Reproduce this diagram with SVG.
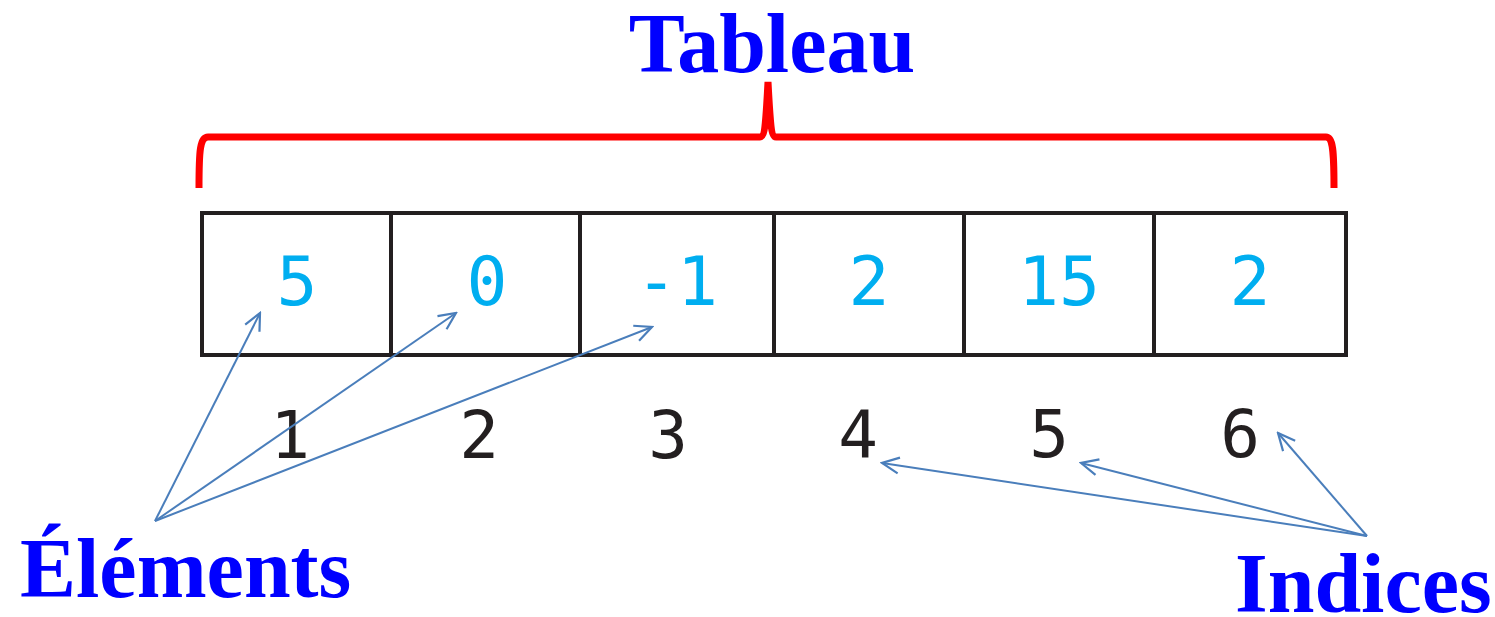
<svg xmlns="http://www.w3.org/2000/svg" width="1495" height="617" viewBox="0 0 1495 617">
<style>
.title{font-family:"Liberation Serif","Times New Roman",serif;font-weight:bold;font-size:84px;fill:#0000ff}
.val{font-family:"DejaVu Sans Mono",monospace;font-size:68px;fill:#00aef0;text-anchor:middle}
.idx{font-family:"DejaVu Sans Mono",monospace;font-size:66px;fill:#231f20;text-anchor:middle}
.cell{fill:#fff;stroke:#231f20;stroke-width:4}
.conn{stroke:#4a7ebb;stroke-width:2;fill:none;marker-end:url(#ah)}
</style>
<defs>
<marker id="ah" markerUnits="userSpaceOnUse" viewBox="-20 -10 22 20" refX="0" refY="0" markerWidth="22" markerHeight="20" orient="auto">
<path d="M-17,-8 L0,0 L-17,8" fill="none" stroke="#4a7ebb" stroke-width="2.2"/>
</marker>
</defs>
<rect width="1495" height="617" fill="#fff"/>
<g id="title"><text class="title" x="772" y="72" text-anchor="middle">Tableau</text></g>
<g id="brace"><path d="M199,188 C199,150 200,137 208,137 L760,137 C765,137 766,120 768,82 C770,120 771,137 776,137 L1326,137 C1333,137 1334,150 1334,188" fill="none" stroke="#ff0000" stroke-width="7"/></g>
<g id="cell1"><rect class="cell" x="202" y="213" width="189" height="142"/><text class="val" x="297" y="305">5</text></g>
<g id="cell2"><rect class="cell" x="391" y="213" width="189" height="142"/><text class="val" x="487" y="305">0</text></g>
<g id="cell3"><rect class="cell" x="580" y="213" width="194" height="142"/><text class="val" x="677" y="305">-1</text></g>
<g id="cell4"><rect class="cell" x="774" y="213" width="190" height="142"/><text class="val" x="869" y="305">2</text></g>
<g id="cell5"><rect class="cell" x="964" y="213" width="190" height="142"/><text class="val" x="1059" y="305">15</text></g>
<g id="cell6"><rect class="cell" x="1154" y="213" width="192" height="142"/><text class="val" x="1250" y="305">2</text></g>
<g id="indices-nums">
<text class="idx" x="290" y="458">1</text>
<text class="idx" x="479" y="458">2</text>
<text class="idx" x="668" y="458">3</text>
<text class="idx" x="858" y="457">4</text>
<text class="idx" x="1049" y="457">5</text>
<text class="idx" x="1240" y="457">6</text>
</g>
<g id="elements-label"><text class="title" x="20" y="597">Éléments</text></g>
<g id="indices-label"><text class="title" x="1235" y="612">Indices</text></g>
<g id="connectors">
<path class="conn" d="M155,521 L260,313"/>
<path class="conn" d="M155,521 L456,313"/>
<path class="conn" d="M155,521 L652,327"/>
<path class="conn" d="M1367,536 L882,463"/>
<path class="conn" d="M1367,536 L1081,463"/>
<path class="conn" d="M1367,536 L1278,433"/>
</g>
</svg>
